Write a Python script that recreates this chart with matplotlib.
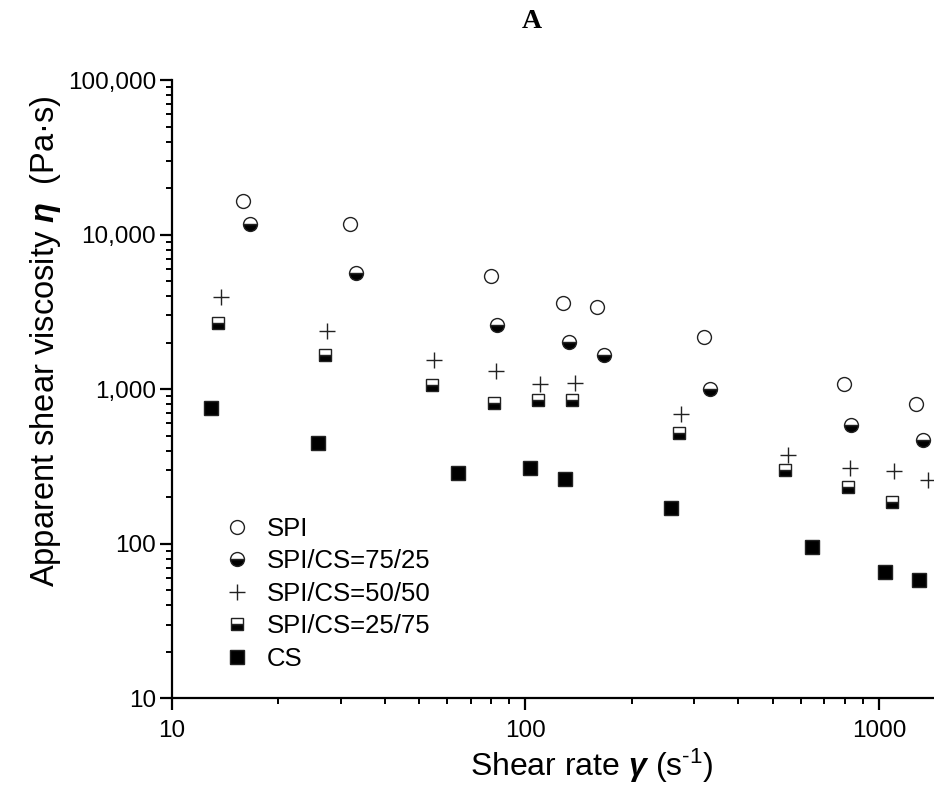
import matplotlib
matplotlib.use("Agg")
import matplotlib.pyplot as plt
from matplotlib.ticker import FixedLocator, LogLocator, NullFormatter

plt.rcParams['font.family'] = ['Liberation Sans', 'DejaVu Sans']
plt.rcParams['mathtext.fontset'] = 'custom'
plt.rcParams['mathtext.rm'] = 'Liberation Sans'
plt.rcParams['mathtext.it'] = 'Liberation Sans:italic'
plt.rcParams['mathtext.bf'] = 'Liberation Sans:bold'
plt.rcParams['mathtext.bfit'] = 'Liberation Sans:bold:italic'

# ---- data ----
spi_x = [15.9, 31.9, 79.9, 127.7, 159.3, 319.2, 797.9, 1275]
spi_y = [16475, 11695, 5387, 3602, 3379, 2161, 1077, 799]

s75_x = [16.6, 33.2, 83.1, 133.0, 166.4, 332.6, 831.8, 1332]
s75_y = [11700, 5658, 2596, 2015, 1652, 995, 585, 472]

s50_x = [13.76, 27.45, 55.0, 82.5, 110.1, 137.8, 275.8, 551.6, 826.5, 1100, 1376]
s50_y = [3958, 2384, 1540, 1313, 1072, 1102, 689, 374, 307, 296, 258]

s25_x = [13.52, 27.09, 54.3, 81.4, 108.7, 135.8, 271.8, 543.3, 815.6, 1088.6]
s25_y = [2687, 1660, 1061, 815, 852, 852, 517, 299, 233, 186.5]

cs_x = [12.89, 25.8, 64.6, 103.3, 129.4, 258.5, 647.6, 1037.8, 1295.5]
cs_y = [750, 449, 286, 307, 262, 170.5, 95.3, 65.7, 58]

labels = ['SPI', 'SPI/CS=75/25', 'SPI/CS=50/50', 'SPI/CS=25/75', 'CS']
x_ticks = [10, 100, 1000]
x_ticklabels = ['10', '100', '1000']
y_ticks = [10, 100, 1000, 10000, 100000]
y_ticklabels = ['10', '100', '1,000', '10,000', '100,000']

W, H = 934, 789
fig = plt.figure(figsize=(W / 100, H / 100), dpi=100)
ax = fig.add_axes([172 / W, 1 - 698.3 / H, (W - 172) / W, (698.3 - 80) / H])
ax.set_xscale('log')
ax.set_yscale('log')
ax.set_xlim(10, 1431)
ax.set_ylim(10, 100000)

ec = '#222222'
ax.plot(spi_x, spi_y, ls='none', marker='o', ms=10, mfc='white', mec=ec, mew=1.0,
        label=labels[0], clip_on=False)
ax.plot(s75_x, s75_y, ls='none', marker='o', ms=10, fillstyle='bottom', mfc='black',
        markerfacecoloralt='white', mec=ec, mew=1.0, label=labels[1], clip_on=False)
ax.plot(s50_x, s50_y, ls='none', marker='+', ms=11, mec=ec, mew=1.0,
        label=labels[2], clip_on=False)
ax.plot(s25_x, s25_y, ls='none', marker='s', ms=9, fillstyle='bottom', mfc='black',
        markerfacecoloralt='white', mec=ec, mew=1.0, label=labels[3], clip_on=False)
ax.plot(cs_x, cs_y, ls='none', marker='s', ms=9.5, mfc='black', mec=ec, mew=1.0,
        label=labels[4], clip_on=False)

for s in ['top', 'right']:
    ax.spines[s].set_visible(False)
for s in ['left', 'bottom']:
    ax.spines[s].set_linewidth(1.6)

ax.xaxis.set_major_locator(FixedLocator(x_ticks))
ax.set_xticklabels(x_ticklabels)
ax.yaxis.set_major_locator(FixedLocator(y_ticks))
ax.set_yticklabels(y_ticklabels)
ax.xaxis.set_minor_locator(LogLocator(base=10, subs=range(2, 10)))
ax.yaxis.set_minor_locator(LogLocator(base=10, subs=range(2, 10)))
ax.xaxis.set_minor_formatter(NullFormatter())
ax.yaxis.set_minor_formatter(NullFormatter())
ax.tick_params(which='major', direction='out', length=8.5, width=1.6, labelsize=17.5)
ax.tick_params(which='minor', direction='out', length=4.5, width=1.4)
ax.tick_params(axis='x', which='major', pad=7)
ax.tick_params(axis='y', which='major', pad=3)

fig.text(592 / W, 1 - 766 / H, r'Shear rate $\mathbfit{\gamma}$ (s$^{\text{-}1}$)',
         fontsize=23, ha='center', va='center')
fig.text(46 / W, 1 - 341 / H, r'Apparent shear viscosity $\mathbfit{\eta}$  (Pa·s)',
         fontsize=23.5, ha='center', va='center', rotation=90)
fig.text(532 / W, 1 - 22 / H, 'A', fontsize=20, fontweight='bold',
         family='Liberation Serif', ha='center', va='center')

leg = ax.legend(loc='upper left', bbox_to_anchor=(224 / W, 1 - 517 / H),
                bbox_transform=fig.transFigure, frameon=False, fontsize=18.5,
                borderpad=0, borderaxespad=0, handlelength=1.0, handletextpad=0.67,
                labelspacing=0.33, numpoints=1)

fig.savefig('out.png', dpi=100)
